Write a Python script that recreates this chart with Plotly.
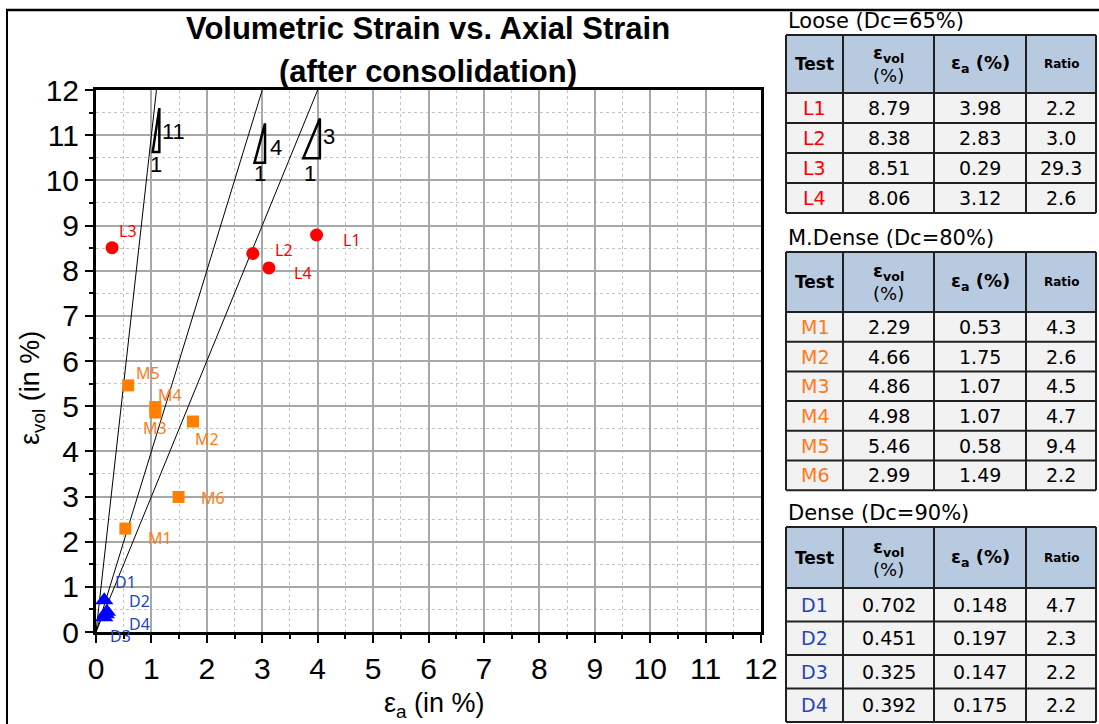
import plotly.graph_objects as go

W, H = 1099, 724

# ---- test data ----
loose_tests = ["L1", "L2", "L3", "L4"]
loose_evol = [8.79, 8.38, 8.51, 8.06]
loose_ea = [3.98, 2.83, 0.29, 3.12]
loose_ratio = [2.2, 3.0, 29.3, 2.6]

mdense_tests = ["M1", "M2", "M3", "M4", "M5", "M6"]
mdense_evol = [2.29, 4.66, 4.86, 4.98, 5.46, 2.99]
mdense_ea = [0.53, 1.75, 1.07, 1.07, 0.58, 1.49]
mdense_ratio = [4.3, 2.6, 4.5, 4.7, 9.4, 2.2]

dense_tests = ["D1", "D2", "D3", "D4"]
dense_evol = [0.702, 0.451, 0.325, 0.392]
dense_ea = [0.148, 0.197, 0.147, 0.175]
dense_ratio = [4.7, 2.3, 2.2, 2.2]

# reference slopes (εvol : εa) drawn from the origin
guide_slopes = [11, 4, 3]

axis_ticks = list(range(0, 13))

RED = "#ff0000"
ORANGE = "#ff8000"
ORANGE_TXT = "#ff7a1a"
BLUE = "#0000ff"
BLUE_TXT = "#2346b8"

LABEL_FONT = "Noto Sans"
TABLE_FONT = "DejaVu Sans"
AXIS_FONT = "Liberation Sans"


def px_x(p):
    return p / W


def px_y(p):
    return 1 - p / H


def text_at(px, py, text, size, color="black", family=TABLE_FONT, xanchor="center", **kw):
    """Place a text centred on a pixel position of the page."""
    fig.add_annotation(xref="paper", yref="paper", x=px_x(px), y=px_y(py),
                       xanchor=xanchor, yanchor="middle", text=text, showarrow=False,
                       font=dict(family=family, size=size, color=color), **kw)


fig = go.Figure()

# guide lines
for s in guide_slopes:
    fig.add_trace(go.Scatter(
        x=[0, 12 / s], y=[0, 12], mode="lines",
        line=dict(color="black", width=1), hoverinfo="skip", showlegend=False))

# data points
fig.add_trace(go.Scatter(
    x=loose_ea, y=loose_evol, mode="markers", name="Loose",
    marker=dict(symbol="circle", size=13, color=RED), showlegend=False))
fig.add_trace(go.Scatter(
    x=mdense_ea, y=mdense_evol, mode="markers", name="M.Dense",
    marker=dict(symbol="square", size=12, color=ORANGE), showlegend=False))
fig.add_trace(go.Scatter(
    x=dense_ea, y=dense_evol, mode="markers", name="Dense",
    marker=dict(symbol="triangle-up", size=16, color=BLUE), showlegend=False))

# point labels (pixel offsets from each marker)
label_offsets = {
    "L1": (35, -5), "L2": (31, 3), "L3": (16, 17), "L4": (34, -5),
    "M1": (35, -9), "M2": (14, -17), "M3": (0, -16), "M4": (15, 12),
    "M5": (20, 12), "M6": (34, -1),
    "D1": (21, 18), "D2": (33, 11), "D3": (16, -19), "D4": (34, -10),
}
for tests, xs, ys, col in [
    (loose_tests, loose_ea, loose_evol, RED),
    (mdense_tests, mdense_ea, mdense_evol, ORANGE_TXT),
    (dense_tests, dense_ea, dense_evol, BLUE_TXT),
]:
    for t, xv, yv in zip(tests, xs, ys):
        dx, dy = label_offsets[t]
        fig.add_annotation(x=xv, y=yv, text=t, showarrow=False,
                           xanchor="center", yanchor="middle",
                           xshift=dx, yshift=dy,
                           font=dict(family=LABEL_FONT, size=16, color=col))

# slope triangles with their ratio labels
triangles = [
    ((1.023, 10.63), (1.143, 10.63), (1.143, 11.6), "11", (1.40, 11.08), (1.09, 10.34)),
    ((2.86, 10.39), (3.05, 10.39), (3.05, 11.26), "4", (3.24, 10.72), (2.96, 10.15)),
    ((3.74, 10.49), (4.04, 10.49), (4.04, 11.37), "3", (4.21, 10.98), (3.87, 10.15)),
]
for a, b, c, rise, rpos, rnpos in triangles:
    fig.add_shape(type="path", xref="x", yref="y",
                  path=f"M {a[0]},{a[1]} L {b[0]},{b[1]} L {c[0]},{c[1]} Z",
                  line=dict(color="black", width=2.5))
    for pos, txt in [(rpos, rise), (rnpos, "1")]:
        fig.add_annotation(x=pos[0], y=pos[1], text=txt, showarrow=False,
                           xanchor="center", yanchor="middle",
                           font=dict(family=AXIS_FONT, size=22, color="black"))

# ---- axes ----
axis_common = dict(
    range=[0, 12], tickvals=axis_ticks, ticktext=[str(v) for v in axis_ticks],
    showgrid=True, gridcolor="#a8a8a8", gridwidth=1.5,
    showline=True, linecolor="black", linewidth=3, mirror=True,
    ticks="outside", ticklen=8, tickwidth=2, tickcolor="black",
    tickfont=dict(family=AXIS_FONT, size=30, color="black"),
    zeroline=False, fixedrange=True, automargin=False,
    minor=dict(dtick=0.5, showgrid=True, gridcolor="#c4c4c4", griddash="dot",
               gridwidth=1, ticks="outside", ticklen=4, tickwidth=2, tickcolor="black"),
)
fig.update_xaxes(domain=[px_x(96), px_x(761)], **axis_common)
fig.update_yaxes(domain=[px_y(632), px_y(90)], **axis_common)

# axis titles
text_at(434, 705, "ε<sub>a</sub> (in %)", 27, family=AXIS_FONT)
text_at(32, 388, "ε<sub>vol</sub> (in %)", 27, family=AXIS_FONT, textangle=-90)

# chart title
text_at(428, 29, "<b>Volumetric Strain vs. Axial Strain</b>", 31, family=AXIS_FONT)
text_at(428, 72, "<b>(after consolidation)</b>", 31, family=AXIS_FONT)

# outer frame
fig.add_shape(type="line", xref="paper", yref="paper",
              x0=px_x(6), x1=1, y0=px_y(10), y1=px_y(10),
              line=dict(color="black", width=2.5))
fig.add_shape(type="line", xref="paper", yref="paper",
              x0=px_x(7), x1=px_x(7), y0=px_y(10), y1=0,
              line=dict(color="black", width=2))


# ---- summary tables ----
COLS = [786, 843, 934, 1026, 1096]
HEADER_FILL = "#b8cadf"
CELL_FILL = "#f2f2f2"


def add_table(title, top, header_h, row_h, tests, evol, ea, ratio, color, dec):
    n = len(tests)
    bottom = top + header_h + n * row_h
    text_at(786, top - 14, title, 21, xanchor="left")
    fig.add_shape(type="rect", xref="paper", yref="paper",
                  x0=px_x(COLS[0]), x1=px_x(COLS[-1]),
                  y0=px_y(top), y1=px_y(top + header_h),
                  fillcolor=HEADER_FILL, line=dict(width=0), layer="below")
    fig.add_shape(type="rect", xref="paper", yref="paper",
                  x0=px_x(COLS[0]), x1=px_x(COLS[-1]),
                  y0=px_y(top + header_h), y1=px_y(bottom),
                  fillcolor=CELL_FILL, line=dict(width=0), layer="below")
    # grid lines
    ys = [top + header_h + i * row_h for i in range(n + 1)]
    for yy in [top] + ys:
        fig.add_shape(type="line", xref="paper", yref="paper",
                      x0=px_x(COLS[0]), x1=px_x(COLS[-1]), y0=px_y(yy), y1=px_y(yy),
                      line=dict(color="#202020", width=2))
    for xx in COLS:
        fig.add_shape(type="line", xref="paper", yref="paper",
                      x0=px_x(xx), x1=px_x(xx), y0=px_y(top), y1=px_y(bottom),
                      line=dict(color="#202020", width=2))
    # header text
    headers = ["<b>Test</b>", "<b>ε<sub>vol</sub></b><br>(%)",
               "<b>ε<sub>a</sub> (%)</b>", "<b>Ratio</b>"]
    hsizes = [17, 18, 18, 12]
    for i, (h, sz) in enumerate(zip(headers, hsizes)):
        cx = (COLS[i] + COLS[i + 1]) / 2
        text_at(cx, top + header_h / 2, h, sz)
    # body text
    for r in range(n):
        cy = top + header_h + (r + 0.5) * row_h
        vals = [tests[r], f"{evol[r]:.{dec}f}", f"{ea[r]:.{dec}f}", f"{ratio[r]:.1f}"]
        for i, v in enumerate(vals):
            cx = (COLS[i] + COLS[i + 1]) / 2
            text_at(cx, cy, v, 19, color=color if i == 0 else "black")


add_table("Loose (Dc=65%)", 35, 58, 30, loose_tests, loose_evol, loose_ea,
          loose_ratio, RED, 2)
add_table("M.Dense (Dc=80%)", 252, 60, 29.7, mdense_tests, mdense_evol, mdense_ea,
          mdense_ratio, ORANGE_TXT, 2)
add_table("Dense (Dc=90%)", 527, 61, 33.5, dense_tests, dense_evol, dense_ea,
          dense_ratio, BLUE_TXT, 3)

fig.update_layout(
    width=W, height=H,
    margin=dict(l=0, r=0, t=0, b=0, autoexpand=False),
    paper_bgcolor="white", plot_bgcolor="white",
    showlegend=False,
)

fig.write_html("out.html")
